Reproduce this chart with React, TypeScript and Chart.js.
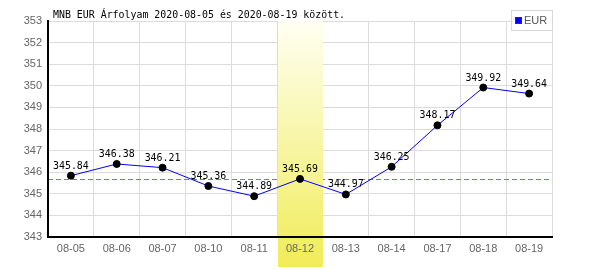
import React, { useEffect, useRef } from "react";
import { Chart, registerables } from "chart.js";

Chart.register(...registerables);

const TITLE = "MNB EUR Árfolyam 2020-08-05 és 2020-08-19 között.";
const SERIES_NAME = "EUR";
const categories = ["08-05", "08-06", "08-07", "08-10", "08-11", "08-12", "08-13", "08-14", "08-17", "08-18", "08-19"];
const values = [345.84, 346.38, 346.21, 345.36, 344.89, 345.69, 344.97, 346.25, 348.17, 349.92, 349.64];
const highlightCategory = "08-12";
const Y_MIN = 343;
const Y_MAX = 353;
const Y_STEP = 1;

const MONO_SCALE = 0.9;

function monoText(ctx: any, text: string, x: number, y: number, align: "left" | "center") {
  ctx.save();
  ctx.font = "11px 'DejaVu Sans Mono'";
  ctx.fillStyle = "#000";
  ctx.textBaseline = "alphabetic";
  ctx.textAlign = align;
  ctx.translate(x, y);
  ctx.scale(MONO_SCALE, 1);
  ctx.fillText(text, 0, 0);
  ctx.restore();
}

const decorPlugin = {
  id: "decor",
  beforeDatasetsDraw(chart: any) {
    const { ctx, chartArea, scales } = chart;
    const xs = scales.x;
    const ys = scales.y;
    const idx = categories.indexOf(highlightCategory);
    const refY = Math.round(ys.getPixelForValue(values[idx])) + 0.5;
    ctx.save();
    ctx.strokeStyle = "#6f6fff";
    ctx.lineWidth = 1;
    ctx.setLineDash([5, 3]);
    ctx.beginPath();
    ctx.moveTo(chartArea.left, refY);
    ctx.lineTo(chartArea.right, refY);
    ctx.stroke();
    ctx.setLineDash([]);
    const half = (xs.getPixelForValue(1) - xs.getPixelForValue(0)) / 2;
    const cx = xs.getPixelForValue(idx);
    const left = Math.round(cx - half) + 1;
    const right = Math.round(cx + half);
    const bottom = chart.height - 3;
    const grad = ctx.createLinearGradient(0, chartArea.top, 0, bottom);
    grad.addColorStop(0, "#fffff2");
    grad.addColorStop(1, "#f0ec58");
    ctx.fillStyle = grad;
    ctx.fillRect(left, chartArea.top, right - left, bottom - chartArea.top);
    ctx.restore();
  },
  afterDraw(chart: any) {
    const { ctx } = chart;
    ctx.save();
    const meta = chart.getDatasetMeta(0);
    meta.data.forEach((pt: any, i: number) => {
      monoText(ctx, values[i].toFixed(2), pt.x, pt.y - 7, "center");
    });
    monoText(ctx, TITLE, 53, 18, "left");
    // legend
    const lx = 511.5, ly = 10.5, lw = 41, lh = 20;
    ctx.fillStyle = "#fff";
    ctx.fillRect(lx, ly, lw, lh);
    ctx.strokeStyle = "#d8d8d8";
    ctx.lineWidth = 1;
    ctx.strokeRect(lx, ly, lw, lh);
    ctx.fillStyle = "#0000ff";
    ctx.fillRect(515, 17, 7, 7);
    ctx.strokeStyle = "#333";
    ctx.strokeRect(515.5, 17.5, 6, 6);
    ctx.fillStyle = "#555";
    ctx.font = "11px 'Liberation Sans'";
    ctx.textAlign = "left";
    ctx.textBaseline = "middle";
    ctx.fillText(SERIES_NAME, 524, 21);
    ctx.restore();
  },
};

export default function App() {
  const ref = useRef<HTMLCanvasElement | null>(null);
  useEffect(() => {
    if (!ref.current) return;
    const tickFont = { family: "'Liberation Sans'", size: 11 };
    const chart = new Chart(ref.current, {
      type: "line",
      data: {
        labels: categories,
        datasets: [
          {
            label: SERIES_NAME,
            data: values,
            borderColor: "#0000ff",
            borderWidth: 1,
            pointRadius: 3.5,
            pointBackgroundColor: "#000",
            pointBorderColor: "#000",
            pointBorderWidth: 1,
            tension: 0,
            fill: false,
          },
        ],
      },
      options: {
        responsive: false,
        animation: false,
        events: [],
        layout: { padding: { left: 0, top: 21, right: 48, bottom: 0 } },
        plugins: { legend: { display: false }, tooltip: { enabled: false }, title: { display: false } },
        scales: {
          x: {
            type: "category",
            offset: true,
            grid: { offset: true, color: "#dcdcdc", lineWidth: 1, drawTicks: false },
            border: { color: "#000", width: 2, z: 1 },
            ticks: { color: "#666", font: tickFont, padding: 5, z: 1, autoSkip: false, maxRotation: 0 },
            afterFit: (s: any) => {
              s.height = 33;
            },
          },
          y: {
            min: Y_MIN,
            max: Y_MAX,
            grid: { color: "#dcdcdc", lineWidth: 1, drawTicks: false },
            border: { color: "#000", width: 2, z: 1 },
            ticks: { stepSize: Y_STEP, color: "#666", font: tickFont, padding: 6, z: 1 },
            afterFit: (s: any) => {
              s.width = 48;
            },
          },
        },
      } as any,
      plugins: [decorPlugin],
    });
    return () => chart.destroy();
  }, []);
  return (
    <div style={{ position: "absolute", left: 0, top: 0, width: 600, height: 270, background: "#fff" }}>
      <canvas ref={ref} width={600} height={270} style={{ display: "block", width: 600, height: 270 }} />
    </div>
  );
}
